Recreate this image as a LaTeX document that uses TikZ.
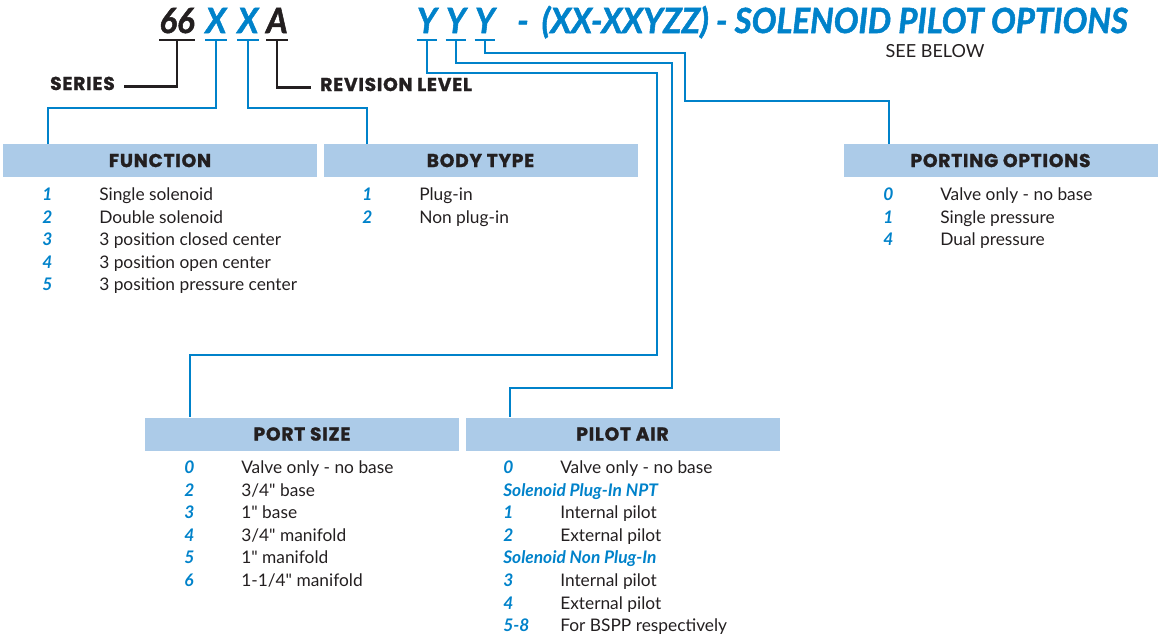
\documentclass[tikz,border=0pt]{standalone}
\usepackage{fontspec}
\setmainfont{Lato}
\newfontfamily\headfont{Poppins}[FakeBold=1.2, LetterSpace=4]
\newfontfamily\codefont{Lato}[FakeBold=1.5, FakeStretch=0.95]
\usetikzlibrary{calc}
\definecolor{codeblue}{RGB}{0,130,202}
\definecolor{headfill}{RGB}{172,203,232}
\definecolor{ink}{RGB}{35,31,32}
\newcommand{\opt}[2]{\makebox[42.75pt][l]{\color{codeblue}\bfseries\itshape #1}#2}

\begin{document}
\begin{tikzpicture}[x=0.75pt, y=-0.75pt]
        \tikzset{headbox/.style={fill=headfill, inner sep=0pt, minimum width=235.5pt, minimum height=24.75pt, text=ink, font=\headfont\bfseries\fontsize{14}{17}\selectfont}}
        \tikzset{code/.style={anchor=base, inner sep=0pt, text depth=0pt, font=\codefont\bfseries\itshape\fontsize{26}{30}\selectfont}}
        \tikzset{item/.style={anchor=base west, inner sep=0pt, text=ink, font=\fontsize{13}{16}\selectfont}}
        \tikzset{subhead/.style={item, text=codeblue, font=\bfseries\itshape\fontsize{13}{16}\selectfont}}
        \tikzset{wire/.style={draw=codeblue, line width=1.8pt}}
        \tikzset{blackwire/.style={draw=ink, line width=1.8pt}}
        \path[use as bounding box] (0,0) rectangle (1160,637);
        % part number
        \node[code, text=ink] (l66) at (177,33) {66};
        \node[code, text=codeblue] (lx1) at (216,33) {X};
        \node[code, text=codeblue] (lx2) at (248,33) {X};
        \node[code, text=ink] (la) at (277,33) {A};
        \node[code, text=codeblue] (ly1) at (427,33) {Y};
        \node[code, text=codeblue] (ly2) at (456,33) {Y};
        \node[code, text=codeblue] (ly3) at (485,33) {Y};
        \node[code, text=codeblue, anchor=base west] (title) at (517,33) {-\, (XX-XXYZZ) - SOLENOID PILOT OPTIONS};
        \node[item, anchor=base, font=\fontsize{13.5}{16}\selectfont] (below) at (935,57.5) {SEE BELOW};
        \node[anchor=base east, inner sep=0pt, text=ink, font=\headfont\bfseries\fontsize{14}{16}\selectfont] (series) at (115,90) {SERIES};
        \node[anchor=base west, inner sep=0pt, text=ink, font=\headfont\bfseries\fontsize{14}{16}\selectfont] (rev) at (320,91) {REVISION LEVEL};
        % underlines
        \foreach \l/\c in {l66/ink, lx1/codeblue, lx2/codeblue, la/ink, ly1/codeblue, ly2/codeblue, ly3/codeblue} {
            \draw[line width=1.8pt, draw=\c] ($(\l.south west)+(0,6.5)$) -- ($(\l.south east)+(0,6.5)$);
            \coordinate (u\l) at ($(\l.south)+(0,6.5)$);
        }
        % headers
        \node[headbox] (func) at (160,160.5) {FUNCTION};
        \node[headbox] (body) at (480.5,160.5) {BODY TYPE};
        \node[headbox] (port) at (1000.5,160.5) {PORTING OPTIONS};
        \node[headbox] (size) at (302,434) {PORT SIZE};
        \node[headbox] (pilot) at (622.5,434) {PILOT AIR};
        % connectors
        \draw[blackwire] (ul66) |- ([xshift=6.75pt]series.mid east);
        \draw[blackwire] (ula) |- ([xshift=-6.75pt]rev.mid west);
        \draw[wire] (ulx1) -- ++(0,68) -| ($(func.north west)+(45,0)$);
        \draw[wire] (ulx2) -- ++(0,68) -| ($(body.north west)+(44,0)$);
        \draw[wire] (uly1) -- ++(0,33) -- ++(230,0) -- ++(0,282) -| ($(size.north west)+(45,0)$);
        \draw[wire] (uly2) -- ++(0,23) -- ++(216,0) -- ++(0,325) -| ($(pilot.north west)+(45,0)$);
        \draw[wire] (uly3) -- ++(0,13) -- ++(200,0) -- ++(0,48) -| ($(port.north west)+(45.5,0)$);
        % function
        \node[item] (fn1) at (42,200.5) {\opt{1}{Single solenoid}};
        \node[item] (fn2) at (42,223.1) {\opt{2}{Double solenoid}};
        \node[item] (fn3) at (42,245.7) {\opt{3}{3 position closed center}};
        \node[item] (fn4) at (42,268.3) {\opt{4}{3 position open center}};
        \node[item] (fn5) at (42,290.9) {\opt{5}{3 position pressure center}};
        % body type
        \node[item] (bt1) at (362,200.5) {\opt{1}{Plug-in}};
        \node[item] (bt2) at (362,223.1) {\opt{2}{Non plug-in}};
        % porting options
        \node[item] (po0) at (883,200.5) {\opt{0}{Valve only - no base}};
        \node[item] (po1) at (883,223.1) {\opt{1}{Single pressure}};
        \node[item] (po4) at (883,245.7) {\opt{4}{Dual pressure}};
        % port size
        \node[item] (ps0) at (184,473.5) {\opt{0}{Valve only - no base}};
        \node[item] (ps2) at (184,496.1) {\opt{2}{3/4\textquotedbl{} base}};
        \node[item] (ps3) at (184,518.7) {\opt{3}{1\textquotedbl{} base}};
        \node[item] (ps4) at (184,541.3) {\opt{4}{3/4\textquotedbl{} manifold}};
        \node[item] (ps5) at (184,563.9) {\opt{5}{1\textquotedbl{} manifold}};
        \node[item] (ps6) at (184,586.5) {\opt{6}{1-1/4\textquotedbl{} manifold}};
        % pilot air
        \node[item] (pa0) at (503,473.5) {\opt{0}{Valve only - no base}};
        \node[subhead] (paplug) at (503,496.1) {Solenoid Plug-In NPT};
        \node[item] (pa1) at (503,518.7) {\opt{1}{Internal pilot}};
        \node[item] (pa2) at (503,541.3) {\opt{2}{External pilot}};
        \node[subhead] (panon) at (503,563.9) {Solenoid Non Plug-In};
        \node[item] (pa3) at (503,586.5) {\opt{3}{Internal pilot}};
        \node[item] (pa4) at (503,609.1) {\opt{4}{External pilot}};
        \node[item] (pa5) at (503,631.7) {\opt{5-8}{For BSPP respectively}};
    \end{tikzpicture}
\end{document}
